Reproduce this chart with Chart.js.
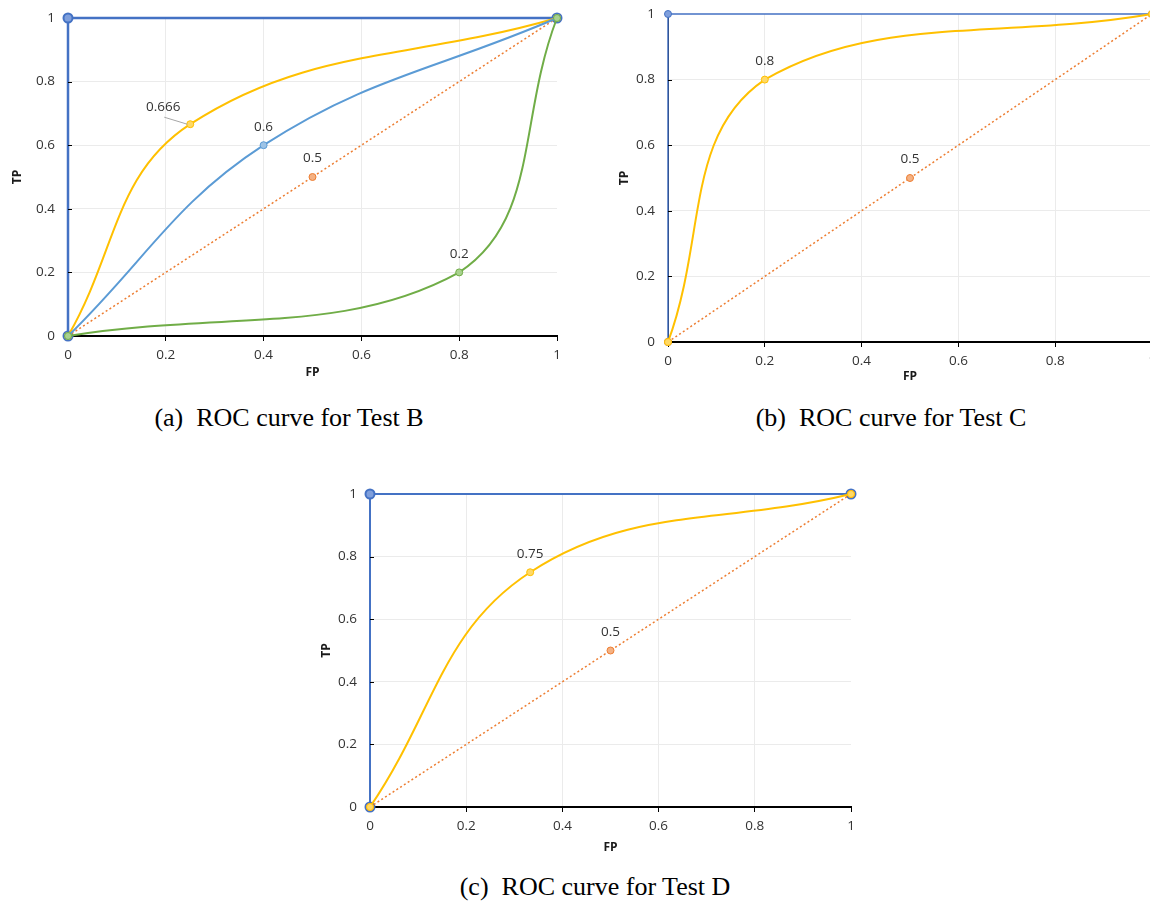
<!DOCTYPE html>
<html>
<head>
<meta charset="utf-8">
<script src="https://cdn.jsdelivr.net/npm/chart.js@4.4.0/dist/chart.umd.min.js"></script>
<style>
  html, body { margin:0; padding:0; background:#fff; overflow:hidden; width:1150px; height:901px; }
  canvas { position:absolute; }
  .cap { position:absolute; font-family:"Liberation Serif", "Times New Roman", serif; font-size:26px; color:#000; white-space:pre; transform:translate(-50%,-50%); }
</style>
</head>
<body>
<canvas id="chartA" width="580" height="390" style="left:0;top:0"></canvas>
<canvas id="chartB" width="580" height="396" style="left:600px;top:0"></canvas>
<canvas id="chartC" width="580" height="385" style="left:302px;top:476px"></canvas>
<div class="cap" style="left:289px;top:418px">(a)  ROC curve for Test B</div>
<div class="cap" style="left:891px;top:418px">(b)  ROC curve for Test C</div>
<div class="cap" style="left:595px;top:887px">(c)  ROC curve for Test D</div>
<script>
// === DATA ===
const axisTicks = [0, 0.2, 0.4, 0.6, 0.8, 1];
const tickLabels = ['0', '0.2', '0.4', '0.6', '0.8', '1'];

const perfectFP = [0, 0, 1];
const perfectTP = [0, 1, 1];
const chanceFP = [0, 0.5, 1];
const chanceTP = [0, 0.5, 1];
const chanceLabels = ['', '0.5', ''];

// Test B (three curves)
const testB1FP = [0, 0.25, 1];
const testB1TP = [0, 0.666, 1];
const testB1Labels = ['', '0.666', ''];
const testB2FP = [0, 0.4, 1];
const testB2TP = [0, 0.6, 1];
const testB2Labels = ['', '0.6', ''];
const testB3FP = [0, 0.8, 1];
const testB3TP = [0, 0.2, 1];
const testB3Labels = ['', '0.2', ''];

// Test C
const testCFP = [0, 0.2, 1];
const testCTP = [0, 0.8, 1];
const testCLabels = ['', '0.8', ''];

// Test D
const testDFP = [0, 0.333, 1];
const testDTP = [0, 0.75, 1];
const testDLabels = ['', '0.75', ''];

// === HELPERS ===
function q(id){ return document.getElementById(id); }
function pts(fp, tp){ return fp.map((x, i) => ({ x: x, y: tp[i] })); }

const FONT = '"Open Sans", "Noto Sans", sans-serif';
const TXT = '#333333';

function serie(fp, tp, color, fill, extra){
  return Object.assign({
    data: pts(fp, tp),
    borderColor: color,
    backgroundColor: fill,
    pointBackgroundColor: fill,
    pointBorderColor: color,
    pointRadius: 3.5,
    pointBorderWidth: 1,
    borderWidth: 2,
    tension: 0.4,
    fill: false,
    clip: false
  }, extra || {});
}

function chance(){
  return serie(chanceFP, chanceTP, '#ED7D31', '#F4B183', {
    borderWidth: 1.5, borderDash: [2, 2.5], tension: 0, pointLabels: chanceLabels
  });
}
function perfect(w, r){
  return serie(perfectFP, perfectTP, '#4472C4', '#7F9FDC', {
    borderWidth: w, tension: 0, pointRadius: r, pointBorderWidth: r > 4 ? 2 : 1
  });
}

// === DATA LABELS + INNER Y TICKS ===
const labelPlugin = {
  id: 'etiquetas',
  afterDatasetsDraw(chart){
    const ctx = chart.ctx;
    const left = chart.chartArea.left;
    const ys = chart.scales.y;
    ctx.save();
    ctx.strokeStyle = '#000';
    ctx.lineWidth = 1;
    axisTicks.forEach(v => {
      if (v <= 0 || v >= 1) return;
      const py = Math.round(ys.getPixelForValue(v)) + 0.5;
      ctx.beginPath(); ctx.moveTo(left, py); ctx.lineTo(left + 4, py); ctx.stroke();
    });
    ctx.font = '13.5px ' + FONT;
    ctx.fillStyle = TXT;
    ctx.textAlign = 'center';
    ctx.textBaseline = 'middle';
    chart.data.datasets.forEach((ds, i) => {
      if (!ds.pointLabels) return;
      const meta = chart.getDatasetMeta(i);
      ds.pointLabels.forEach((txt, j) => {
        if (!txt) return;
        const el = meta.data[j];
        const dx = ds.labelDx || 0;
        const dy = ds.labelDy || -18.5;
        if (ds.leader) {
          ctx.strokeStyle = '#A6A6A6';
          ctx.beginPath();
          ctx.moveTo(el.x + dx + 1, el.y + dy + 10);
          ctx.lineTo(el.x - 3, el.y);
          ctx.stroke();
        }
        ctx.fillText(txt, el.x + dx, el.y + dy);
      });
    });
    ctx.restore();
  }
};

function gridColor(c){
  const v = c.tick ? c.tick.value : null;
  return (v === 0 || v === 1) ? 'rgba(0,0,0,0)' : '#EBEBEB';
}

function makeChart(id, datasets, d){
  return new Chart(q(id), {
    type: 'line',
    data: { datasets: datasets },
    plugins: [labelPlugin],
    options: {
      responsive: false,
      animation: false,
      events: [],
      layout: { autoPadding: false, padding: { top: d.top, right: d.right, left: 0, bottom: 0 } },
      plugins: { legend: { display: false }, tooltip: { enabled: false } },
      scales: {
        x: {
          type: 'linear', min: 0, max: 1,
          afterFit: s => { s.height = 54; s.paddingLeft = 0; s.paddingRight = 0; },
          afterBuildTicks: s => { s.ticks = axisTicks.map(v => ({ value: v })); },
          ticks: {
            callback: (v, i) => tickLabels[i],
            padding: 6, color: TXT, maxRotation: 0, autoSkip: false,
            font: { family: FONT, size: 13.5 }
          },
          grid: { color: gridColor, tickColor: '#000', tickLength: 5, tickWidth: 1 },
          border: { color: '#000', width: 2 },
          title: {
            display: true, text: 'FP', color: '#1a1a1a',
            font: { family: FONT, size: 12, weight: 'bold' },
            padding: { top: 0, bottom: d.fpPad }
          }
        },
        y: {
          type: 'linear', min: 0, max: 1,
          afterFit: s => { s.width = 68; s.paddingTop = 0; s.paddingBottom = 0; },
          afterBuildTicks: s => { s.ticks = axisTicks.map(v => ({ value: v })); },
          ticks: {
            callback: (v, i) => tickLabels[i],
            padding: 13, color: TXT, autoSkip: false,
            font: { family: FONT, size: 13.5 }
          },
          grid: { color: gridColor, drawTicks: false },
          border: { color: '#000', width: 1 },
          title: {
            display: true, text: 'TP', color: '#1a1a1a',
            font: { family: FONT, size: 12, weight: 'bold' },
            padding: { top: d.tpPad, bottom: 0 }
          }
        }
      }
    }
  });
}

// === (a) TEST B ===
makeChart('chartA', [
  serie(testB3FP, testB3TP, '#70AD47', '#A9D18E', { pointLabels: testB3Labels }),
  serie(testB2FP, testB2TP, '#5B9BD5', '#9DC3E6', { pointLabels: testB2Labels }),
  serie(testB1FP, testB1TP, '#FFC000', '#FFD966', { pointLabels: testB1Labels, labelDx: -27, labelDy: -17, leader: true }),
  chance(),
  perfect(2.5, 4.5)
], { top: 18, right: 23, fpPad: 10, tpPad: 10 });

// === (b) TEST C ===
makeChart('chartB', [
  serie(testCFP, testCTP, '#FFC000', '#FFD966', { pointLabels: testCLabels }),
  chance(),
  perfect(1.5, 3.5)
], { top: 14, right: 28, fpPad: 12, tpPad: 17 });

// === (c) TEST D ===
makeChart('chartC', [
  serie(testDFP, testDTP, '#FFC000', '#FFD966', { pointLabels: testDLabels }),
  chance(),
  perfect(2, 4.5)
], { top: 18, right: 31, fpPad: 6, tpPad: 17 });
</script>
</body>
</html>
